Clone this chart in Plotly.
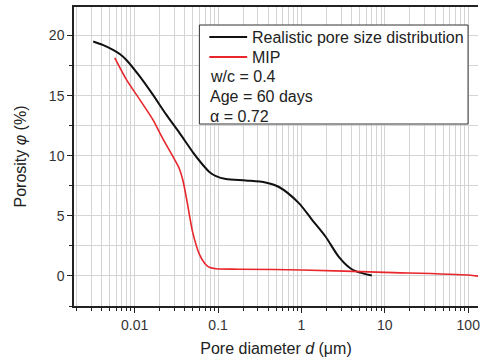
import plotly.graph_objects as go

# Data
d_real = [0.00318, 0.0042, 0.0055, 0.0068, 0.0080, 0.0115, 0.0165, 0.0239, 0.0344, 0.0414, 0.0497,
          0.0654, 0.0800, 0.0944, 0.124, 0.215, 0.37, 0.537, 0.93, 1.34, 1.94, 2.79, 3.85, 4.62, 6.98]
phi_real = [19.5, 19.2, 18.8, 18.4, 17.95, 16.6, 15.08, 13.42, 11.9, 11.1, 10.3,
            9.25, 8.6, 8.3, 8.06, 7.94, 7.78, 7.4, 6.06, 4.67, 3.28, 1.61, 0.64, 0.36, 0.03]

d_mip = [0.00577, 0.00796, 0.0115, 0.0165, 0.0218, 0.030, 0.0344, 0.0377, 0.0414, 0.0455, 0.0497,
         0.0597, 0.070, 0.080, 0.0944, 0.179, 1.0, 10.0, 100.0, 140.0]
phi_mip = [18.14, 16.33, 14.67, 13.0, 11.4, 9.7, 8.9, 8.0, 6.6, 5.0, 3.6,
           1.8, 1.0, 0.7, 0.6, 0.56, 0.5, 0.3, 0.08, -0.05]

legend_names = ["Realistic pore size distribution", "MIP"]
info_lines = ["w/c = 0.4", "Age = 60 days", "α = 0.72"]
x_ticks = [0.01, 0.1, 1, 10, 100]
x_ticktext = ["0.01", "0.1", "1", "10", "100"]
y_ticks = [0, 5, 10, 15, 20]

BLACK = "#111111"
RED = "#e8262b"
FONT = "Liberation Sans, Arial, sans-serif"

W, H = 480, 361
ML, MR, MT, MB = 74, 0, 7, 55
PW, PH = W - ML - MR, H - MT - MB


def px(x):
    return (x - ML) / PW


def py(y):
    return (H - MB - y) / PH


fig = go.Figure()
fig.add_trace(go.Scatter(x=d_real, y=phi_real, mode="lines",
                         line=dict(color=BLACK, width=2, shape="spline", smoothing=0.8),
                         name=legend_names[0], showlegend=False))
fig.add_trace(go.Scatter(x=d_mip, y=phi_mip, mode="lines",
                         line=dict(color=RED, width=1.6, shape="spline", smoothing=0.8),
                         name=legend_names[1], showlegend=False))

# legend box
shapes = [dict(type="rect", xref="paper", yref="paper", x0=px(200), x1=px(470), y0=py(124), y1=py(25),
               line=dict(color="#333333", width=1), fillcolor="white", layer="above")]
annotations = []
colors = [BLACK, RED]
for i, name in enumerate(legend_names):
    yy = 37 + 20 * i
    shapes.append(dict(type="line", xref="paper", yref="paper", x0=px(210), x1=px(248), y0=py(yy), y1=py(yy),
                       line=dict(color=colors[i], width=2), layer="above"))
    annotations.append(dict(xref="paper", yref="paper", x=px(251), y=py(yy), text=name, showarrow=False,
                            xanchor="left", yanchor="middle", font=dict(size=16, color="#222222", family=FONT)))
for j, t in enumerate(info_lines):
    yy = 77 + 19.7 * j
    annotations.append(dict(xref="paper", yref="paper", x=px(209), y=py(yy), text=t, showarrow=False,
                            xanchor="left", yanchor="middle", font=dict(size=16, color="#222222", family=FONT)))

axis_common = dict(showline=True, linecolor="#222222", linewidth=1.5, ticks="outside", tickcolor="#222222",
                   tickfont=dict(size=14, color="#333333", family=FONT), gridcolor="#d4d4d4", gridwidth=1,
                   zeroline=False)

fig.update_layout(
    width=W, height=H, margin=dict(l=ML, r=MR, t=MT, b=MB),
    paper_bgcolor="white", plot_bgcolor="white",
    shapes=shapes, annotations=annotations,
    xaxis=dict(type="log", range=[-2.728, 2.117], tickmode="array", tickvals=x_ticks, ticktext=x_ticktext,
               ticklen=5, mirror=True, ticklabeloverflow="allow",
               minor=dict(dtick="D1", showgrid=True, gridcolor="#d4d4d4", ticks="outside", ticklen=3, tickcolor="#222222"),
               title=dict(text="Pore diameter <i>d</i> (μm)", font=dict(size=16, color="#222222", family=FONT), standoff=11),
               **axis_common),
    yaxis=dict(range=[-2.5, 22.375], tickmode="array", tickvals=y_ticks, ticklen=5,
               minor=dict(dtick=2.5, tick0=0, showgrid=True, gridcolor="#d4d4d4", ticks="outside", ticklen=3, tickcolor="#222222"),
               title=dict(text="Porosity <i>φ</i> (%)", font=dict(size=16, color="#222222", family=FONT), standoff=18),
               **axis_common),
    font=dict(family=FONT),
)

fig.write_html("out.html")
